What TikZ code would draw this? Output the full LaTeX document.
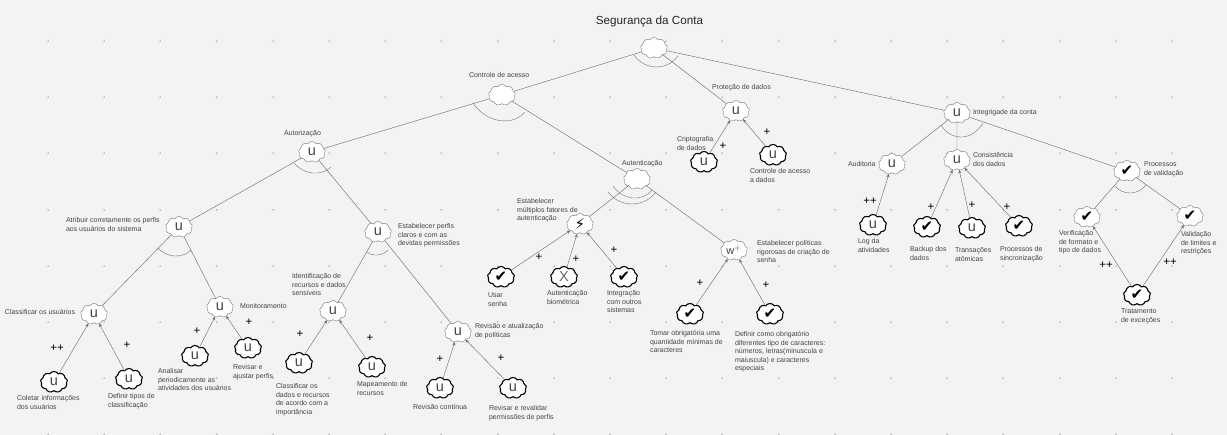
\documentclass[tikz,border=0pt]{standalone}
\usepackage{fontspec}
\setmainfont{Liberation Sans}
\newfontfamily\symfont{DejaVu Sans}
\usetikzlibrary{shapes.symbols,arrows.meta,calc}
\definecolor{bgc}{HTML}{F2F3F5}
\definecolor{linec}{HTML}{666666}
\definecolor{txtc}{HTML}{444444}
\tikzset{
  softgoal/.style={cloud,cloud puffs=9,cloud puff arc=115,aspect=1.3,minimum width=27pt,minimum height=21pt,inner sep=0pt,outer sep=0pt,fill=white,draw=linec,line width=0.35pt,text=txtc,font=\fontsize{14.5}{14.5}\selectfont},
  boldgoal/.style={softgoal,draw=black,line width=1.1pt},
  lbl/.style={anchor=north west,inner sep=0pt,outer sep=0pt,yshift=-1.2pt,align=left,text=txtc,font=\fontsize{7}{8.5}\selectfont},
  plusmark/.style={inner sep=0pt,text=black,font=\fontsize{11.5}{11.5}\selectfont},
  decomp/.style={draw=linec,line width=0.4pt},
  contrib/.style={draw=linec,line width=0.4pt,-{Stealth[length=3.5pt,width=3pt]}},
  decoarc/.style={draw=linec,line width=0.35pt},
}
\newcommand{\chk}{{\symfont\fontsize{15}{15}\selectfont\textcolor{black}{✔}}}
\newcommand{\deco}[5]{\draw[decoarc] (#1,#2) .. controls ($(#1,#2)!.25!(#3,#4)+(0,{1.33*(#5-(#2+#4)/2)})$) and ($(#1,#2)!.75!(#3,#4)+(0,{1.33*(#5-(#2+#4)/2)})$) .. (#3,#4);}
\begin{document}
\begin{tikzpicture}[x=1pt,y=-1pt]
\useasboundingbox (0,0) rectangle (1227,435);
\fill[bgc] (0,0) rectangle (1227,435);
% grid
\foreach \i in {0,...,20}{\foreach \j in {0,...,7}{
  \draw[gray!45,line width=0.3pt] ({48+56.2*\i-1},{41+56.2*\j}) -- ++(2,0) ({48+56.2*\i},{41+56.2*\j-1}) -- ++(0,2);
}}
% title
\node[inner sep=0pt,text=black!85,font=\fontsize{11.7}{13}\selectfont] (title) at (649.5,22) {Segurança da Conta};
% goals
\node[softgoal] (root) at (654,48) {};
\node[softgoal] (ctrl) at (502,95) {};
\node[softgoal] (prot) at (736,111) {u};
\node[boldgoal] (crip) at (704,162) {u};
\node[boldgoal] (cadd) at (773,155) {u};
\node[softgoal] (auten) at (637,179) {};
\node[softgoal] (autor) at (312,152) {u};
\node[softgoal] (atri) at (179,227) {u};
\node[softgoal] (estp) at (378,232) {u};
\node[softgoal] (integ) at (957,113) {u};
\node[softgoal] (audi) at (892,164) {u};
\node[softgoal] (cons) at (957,160) {u};
\node[boldgoal] (logd) at (873,225) {u};
\node[boldgoal] (back) at (927,227) {\chk};
\node[boldgoal] (tran) at (972,228) {u};
\node[boldgoal] (psin) at (1019,226) {\chk};
\node[softgoal] (pval) at (1127,171) {\chk};
\node[softgoal] (veri) at (1087,217) {\chk};
\node[softgoal] (vali) at (1190,216) {\chk};
\node[boldgoal] (trat) at (1137,295) {\chk};
\node[softgoal] (clas) at (94,314) {u};
\node[softgoal] (moni) at (220,307) {u};
\node[boldgoal] (cole) at (54,382) {u};
\node[boldgoal] (defi) at (129,379) {u};
\node[boldgoal] (anal) at (195,356) {u};
\node[boldgoal] (revi) at (248,348) {u};
\node[softgoal] (iden) at (333,311) {u};
\node[softgoal] (rvat) at (458,332) {u};
\node[boldgoal] (cdrc) at (299,363) {u};
\node[boldgoal] (mape) at (372,367) {u};
\node[boldgoal] (rcon) at (440,388) {u};
\node[boldgoal] (rrev) at (513,388) {u};
\node[softgoal] (emul) at (580,224) {{\symfont\fontsize{15}{15}\selectfont\textcolor{black}{⚡}}};
\node[softgoal] (wpol) at (734,250) {\fontsize{11}{11}\selectfont w$^{+}$};
\node[boldgoal] (usar) at (501,277) {\chk};
\node[boldgoal,text=black!60] (biom) at (564,277) {X};
\node[boldgoal] (intg) at (624,277) {\chk};
\node[boldgoal] (toma) at (690,314) {\chk};
\node[boldgoal] (dcar) at (770,314) {\chk};
% decompositions
\foreach \a/\b in {root/ctrl,root/prot,root/integ,ctrl/autor,ctrl/auten,autor/atri,autor/estp,atri/clas,atri/moni,estp/iden,estp/rvat,auten/emul,auten/wpol,integ/audi,integ/cons,integ/pval,pval/veri,pval/vali}
  \draw[decomp] (\a) -- (\b);
% contributions
\foreach \a/\b in {crip/prot,cadd/prot,logd/audi,back/cons,tran/cons,psin/cons,trat/veri,trat/vali,cole/clas,defi/clas,anal/moni,revi/moni,cdrc/iden,mape/iden,rcon/rvat,rrev/rvat,usar/emul,biom/emul,intg/emul,toma/wpol,dcar/wpol}
  \draw[contrib] (\a) -- (\b);
% decomposition arcs
\deco{634}{55}{678}{56}{67}
\deco{473}{103}{525}{112}{120.5}
\deco{294}{163}{331}{167}{173}
\deco{158}{248}{191}{250}{256}
\deco{367}{252}{388}{250}{255}
\deco{613}{186}{652}{190}{198}
\deco{608}{192}{656}{192}{204}
\deco{941}{125}{983}{123}{137}
\deco{1115}{186}{1146}{185}{193}
% labels
\node[lbl] (l1) at (469,71.5) {Controle de acesso};
\node[lbl] (l2) at (712,83.5) {Proteção de dados};
\node[lbl] (l3) at (677,135.5) {Criptografia\\de dados};
\node[lbl] (l4) at (750,167.5) {Controle de acesso\\a dados};
\node[lbl] (l5) at (622,159.5) {Autenticação};
\node[lbl] (l6) at (284,129.5) {Autorização};
\node[lbl] (l7) at (66,216.5) {Atribuir corretamente os perfis\\aos usuários do sistema};
\node[lbl] (l8) at (398,222.5) {Estabelecer perfis\\claros e com as\\devidas permissões};
\node[lbl] (l9) at (292,272.5) {Identificação de\\recursos e dados\\sensíveis};
\node[lbl] (l10) at (5,308.5) {Classificar os usuários};
\node[lbl] (l11) at (240,302.5) {Monitoramento};
\node[lbl] (l12) at (17,394.5) {Coletar informações\\dos usuários};
\node[lbl] (l13) at (108,392.5) {Definir tipos de\\classificação};
\node[lbl] (l14) at (158,367.5) {Analisar\\periodicamente as\\atividades dos usuários};
\node[lbl] (l15) at (233,363.5) {Revisar e\\ajustar perfis};
\node[lbl] (l16) at (276,382.5) {Classificar os\\dados e recursos\\de acordo com a\\importância};
\node[lbl] (l17) at (357,380.5) {Mapeamento de\\recursos};
\node[lbl] (l18) at (475,322.5) {Revisão e atualização\\de políticas};
\node[lbl] (l19) at (413,403.5) {Revisão contínua};
\node[lbl] (l20) at (489,404.5) {Revisar e revalidar\\permissões de perfis};
\node[lbl] (l21) at (517,197.5) {Estabelecer\\múltiplos fatores de\\autenticação};
\node[lbl] (l22) at (488,291.5) {Usar\\senha};
\node[lbl] (l23) at (547,289.5) {Autenticação\\biométrica};
\node[lbl] (l24) at (607,289.5) {Integração\\com outros\\sistemas};
\node[lbl] (l25) at (757,239.5) {Estabelecer políticas\\rigorosas de criação de\\senha};
\node[lbl] (l26) at (650,329.5) {Tomar obrigatória uma\\quantidade mínimas de\\caracteres};
\node[lbl] (l27) at (735,330.5) {Definir como obrigatório\\diferentes tipo de caracteres:\\números, letras(minuscula e\\maiuscula) e caracteres\\especiais};
\node[lbl] (l28) at (973,108.5) {Integrigade da conta};
\node[lbl] (l29) at (848,160.5) {Auditoria};
\node[lbl] (l30) at (973,151.5) {Consistência\\dos dados};
\node[lbl] (l31) at (858,237.5) {Log da\\atividades};
\node[lbl] (l32) at (910,245.5) {Backup dos\\dados};
\node[lbl] (l33) at (955,246.5) {Transações\\atômicas};
\node[lbl] (l34) at (1000,245.5) {Processos de\\sincronização};
\node[lbl] (l35) at (1144,160.5) {Processos\\de validação};
\node[lbl] (l36) at (1059,229.5) {Verificação\\de formato e\\tipo de dados};
\node[lbl] (l37) at (1181,230.5) {Validação\\de limites e\\restrições};
\node[lbl] (l38) at (1121,307.5) {Tratamento\\de exceções};
% contribution signs
\node[plusmark] (p1) at (723,146) {+};
\node[plusmark] (p2) at (767,132) {+};
\node[plusmark] (p3) at (57,348) {++};
\node[plusmark] (p4) at (127,345) {+};
\node[plusmark] (p5) at (197,331) {+};
\node[plusmark] (p6) at (249,322) {+};
\node[plusmark] (p7) at (300,334) {+};
\node[plusmark] (p8) at (370,338) {+};
\node[plusmark] (p9) at (440,359) {+};
\node[plusmark] (p10) at (501,358) {+};
\node[plusmark] (p11) at (539,257) {+};
\node[plusmark] (p12) at (576,259) {+};
\node[plusmark] (p13) at (614,250) {+};
\node[plusmark] (p14) at (700,283) {+};
\node[plusmark] (p15) at (766,285) {+};
\node[plusmark] (p16) at (870,201) {++};
\node[plusmark] (p17) at (931,207) {+};
\node[plusmark] (p18) at (972,205) {+};
\node[plusmark] (p19) at (1007,207) {+};
\node[plusmark] (p20) at (1106,265) {++};
\node[plusmark] (p21) at (1170,262) {++};
\end{tikzpicture}
\end{document}
